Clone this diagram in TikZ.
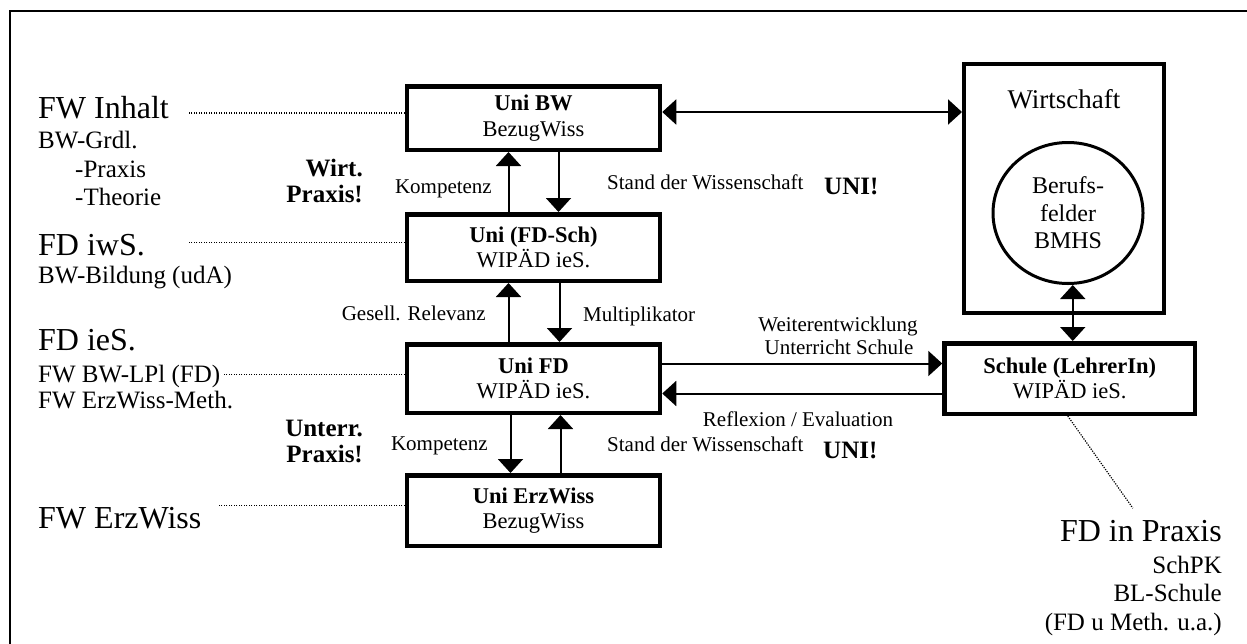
\documentclass[tikz,border=0pt]{standalone}
\usepackage{fontspec}
\setmainfont{Liberation Serif}
\usepackage{tikz}
\usetikzlibrary{arrows.meta,positioning,shapes.geometric}
\tikzstyle{box} = [rectangle, draw, line width=4.5pt, align=center, minimum width=253pt, font=\fontsize{22.5}{25.5}\selectfont]
\tikzstyle{arrow} = [line width=2pt, -{Triangle[width=25pt,length=14pt]}]
\tikzstyle{twoway} = [line width=2pt, {Triangle[width=25pt,length=14pt]}-{Triangle[width=25pt,length=14pt]}]
\tikzstyle{dotline} = [line width=1.2pt, dash pattern=on 1.2pt off 1.3pt]
\tikzstyle{headtxt} = [inner sep=0pt, font=\fontsize{32}{36}\selectfont]
\tikzstyle{subtxt} = [inner sep=0pt, font=\fontsize{25}{28}\selectfont]
\tikzstyle{lbltxt} = [inner sep=0pt, font=\fontsize{21}{24}\selectfont]
\tikzstyle{boldtxt} = [inner sep=0pt, font=\fontsize{25}{28}\selectfont\bfseries]

\begin{document}
\begin{tikzpicture}[x=1pt, y=-1pt]
\useasboundingbox (0,0) rectangle (1247,643);
\draw[line width=2.5pt] (1250,11) -- (10,11) -- (10,650);

% boxes
\node[box, minimum height=63.5pt] (unibw) at (533.5,118) {\textbf{Uni BW}\\BezugWiss};
\node[box, minimum height=66.5pt, below=60pt of unibw] (fdsch) {\textbf{Uni (FD-Sch)}\\WIPÄD ieS.};
\node[box, minimum height=68.5pt, below=59pt of fdsch] (unifd) {\textbf{Uni FD}\\WIPÄD ieS.};
\node[box, minimum height=70.5pt, below=58pt of unifd] (erzwiss) {\textbf{Uni ErzWiss}\\BezugWiss};
\node[box, minimum width=250.5pt, minimum height=70.5pt, right=280pt of unifd] (schule) {\textbf{Schule (LehrerIn)}\\WIPÄD ieS.};
\node[rectangle, draw, line width=4pt, minimum width=200pt, minimum height=249pt] (wirt) at (1064,188.5) {};
\node[inner sep=0pt, anchor=base, font=\fontsize{27}{30}\selectfont] (wirttxt) at ([yshift=-46pt]wirt.north) {Wirtschaft};
\node[ellipse, draw, line width=3pt, minimum width=150pt, minimum height=141pt, align=center, font=\fontsize{24}{27.5}\selectfont] (berufs) at (1068,213) {Berufs-\\felder\\BMHS};

% arrows
\draw[arrow] ([xshift=-25pt]fdsch.north) -- ([xshift=-25pt]unibw.south);
\draw[arrow] ([xshift=25pt]unibw.south) -- ([xshift=25pt]fdsch.north);
\draw[arrow] ([xshift=-25pt]unifd.north) -- ([xshift=-25pt]fdsch.south);
\draw[arrow] ([xshift=26pt]fdsch.south) -- ([xshift=26pt]unifd.north);
\draw[arrow] ([xshift=-23pt]unifd.south) -- ([xshift=-23pt]erzwiss.north);
\draw[arrow] ([xshift=27pt]erzwiss.north) -- ([xshift=27pt]unifd.south);
\draw[arrow] ([yshift=15pt]unifd.east) -- ([yshift=15pt]unifd.east -| schule.west);
\draw[arrow] ([yshift=-15pt]unifd.east -| schule.west) -- ([yshift=-15pt]unifd.east);
\draw[twoway] ([yshift=6pt]unibw.east) -- ([yshift=6pt]unibw.east -| wirt.west);
\draw[twoway] ([xshift=3pt]schule.north) -- ([xshift=3pt]schule.north |- berufs.south);

% left column
\node[headtxt, anchor=base west] (fwinh) at (38,118) {FW Inhalt};
\node[subtxt, anchor=base west] (bwgrdl) at (38,148) {BW-Grdl.};
\node[subtxt, anchor=base west] (praxis) at (75,177) {-Praxis};
\node[subtxt, anchor=base west] (theorie) at (75,205) {-Theorie};
\node[headtxt, anchor=base west] (fdiws) at (38,255) {FD iwS.};
\node[subtxt, anchor=base west] (bwbild) at (38,283) {BW-Bildung (udA)};
\node[headtxt, anchor=base west] (fdies) at (38,350) {FD ieS.};
\node[subtxt, anchor=base west] (fwlpl) at (38,382) {FW BW-LPl (FD)};
\node[subtxt, anchor=base west] (fwmeth) at (38,408) {FW ErzWiss-Meth.};
\node[headtxt, anchor=base west] (fwerz) at (38,528) {FW ErzWiss};

\draw[dotline, shorten >=20pt] ([yshift=5pt]unibw.west) -- ([yshift=5pt]unibw.west -| fwinh.east);
\draw[dotline, shorten >=43pt] ([yshift=5pt]fdsch.west) -- ([yshift=5pt]fdsch.west -| fdiws.east);
\draw[dotline, shorten >=2pt] ([yshift=4pt]unifd.west) -- ([yshift=4pt]unifd.west -| fwlpl.east);
\draw[dotline, shorten >=16pt] ([yshift=5pt]erzwiss.west) -- ([yshift=5pt]erzwiss.west -| fwerz.east);

% bold notes
\node[boldtxt, anchor=base east] (wirtp1) at (363,176) {Wirt.};
\node[boldtxt, anchor=base east] (wirtp2) at (363,202) {Praxis!};
\node[boldtxt, anchor=base east] (unterp1) at (363,436) {Unterr.};
\node[boldtxt, anchor=base east] (unterp2) at (363,462) {Praxis!};
\node[boldtxt, anchor=base west] (uni1) at (824,194) {UNI!};
\node[boldtxt, anchor=base west] (uni2) at (823,458) {UNI!};

% arrow labels
\node[lbltxt, anchor=base east] (komp1) at (492,193) {Kompetenz};
\node[lbltxt, anchor=base west] (stand1) at (607,189) {Stand der Wissenschaft};
\node[lbltxt, anchor=base east] (gesell) at (486,320) {Gesell. Relevanz};
\node[lbltxt, anchor=base west] (multi) at (583,321) {Multiplikator};
\node[lbltxt, anchor=base] (weiter) at (838,331) {Weiterentwicklung};
\node[lbltxt, anchor=base] (unterr) at (839,354) {Unterricht Schule};
\node[lbltxt, anchor=base] (reflex) at (798,426) {Reflexion / Evaluation};
\node[lbltxt, anchor=base east] (komp2) at (488,450) {Kompetenz};
\node[lbltxt, anchor=base west] (stand2) at (607,451) {Stand der Wissenschaft};

% praxis note
\node[headtxt, anchor=base east] (fdpraxis) at (1222,541) {FD in Praxis};
\node[subtxt, anchor=base east] (schpk) at (1222,573) {SchPK};
\node[subtxt, anchor=base east] (blschule) at (1222,601) {BL-Schule};
\node[subtxt, anchor=base east] (fdmeth) at (1222,630) {(FD u Meth. u.a.)};
\draw[dotline, shorten >=14pt] ([xshift=-2pt]schule.south) -- (fdpraxis.north);
\end{tikzpicture}
\end{document}
